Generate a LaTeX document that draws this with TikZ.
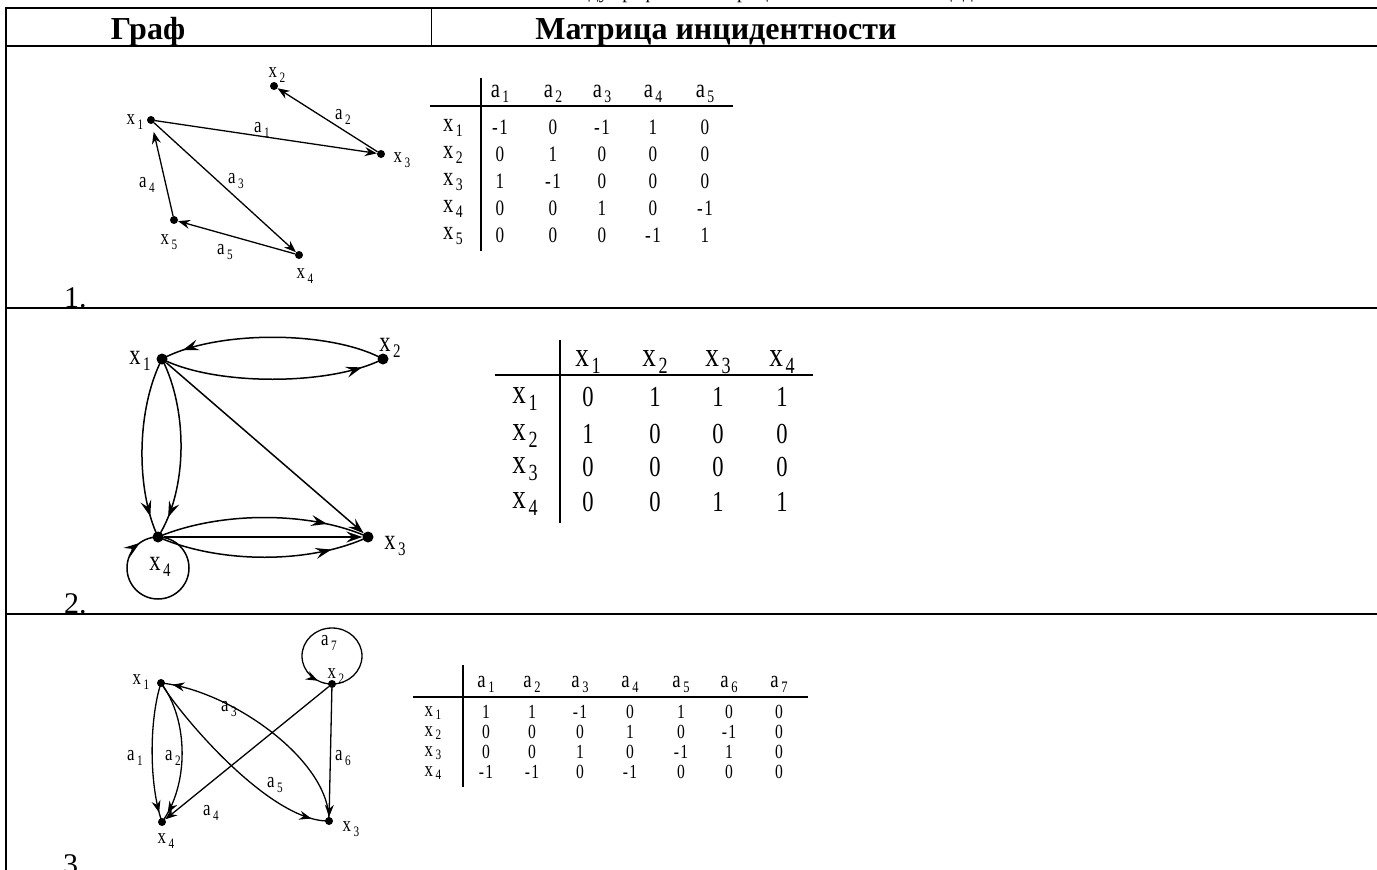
\documentclass[tikz,border=0pt]{standalone}
\usepackage{fontspec}
\usepackage{graphicx}
\setmainfont{Liberation Serif}
\newfontfamily\nar[FakeStretch=0.78]{Liberation Serif}
\usetikzlibrary{arrows.meta,decorations.markings}
\newcommand\lb[2]{\scalebox{1.2}{#1}\kern2.5pt\raisebox{-0.25em}{\scalebox{0.8}{#2}}}
\newcommand\lbs[2]{\scalebox{1.2}{#1}\kern2.5pt\raisebox{-0.15em}{\scalebox{0.8}{#2}}}
\newcommand\fs[1]{\fontsize{#1}{#1}\selectfont}
\newcommand\val[1]{\ifnum#1<0 -\kern1.5pt\the\numexpr-#1\relax\else#1\fi}
\tikzset{
  dot/.style={circle,fill,inner sep=0,minimum size=8pt},
  dotb/.style={circle,fill,inner sep=0,minimum size=11pt},
  lab/.style={font=\nar\fs{18},inner sep=0},
  labb/.style={font=\nar\fs{24},inner sep=0},
  ed/.style={line width=1.3pt},
  edb/.style={line width=1.5pt},
  tipA/.tip={Stealth[length=12pt,width=9pt,inset=4pt]},
  tipB/.tip={Stealth[length=16pt,width=11pt,inset=6pt]},
  midA/.style={postaction={decorate},decoration={markings,mark=at position #1 with {\arrow{tipA}}}},
  midB/.style={postaction={decorate},decoration={markings,mark=at position #1 with {\arrow{tipB}}}},
  rule/.style={line width=2pt},
  thinrule/.style={line width=1pt},
  mA/.style={font=\nar\fs{22},inner sep=0},
  mB/.style={font=\nar\fs{29},inner sep=0},
  mC/.style={font=\nar\fs{20},inner sep=0},
  mCr/.style={font=\nar\fs{18},inner sep=0},
  mline/.style={line width=2pt},
  hd/.style={font=\bfseries\fs{32},inner sep=0,anchor=base},
}
\begin{document}
\begin{tikzpicture}[x=1pt,y=-1pt]
\useasboundingbox (0,0) rectangle (1377,870);
\clip (0,0) rectangle (1377,870);
% cut-off caption above the table
\node[anchor=base east,font=\fs{20},inner sep=0] (capa) at (609,-1.5) {Соответствие между};
\node[anchor=base west,font=\fs{20},inner sep=0] (capb) at (614,-1.5) {графами и матрицами смежности и инцидентности};
% table frame
\draw[rule] (6,7.5) -- (1377,7.5);
\draw[rule] (6,46) -- (1377,46);
\draw[line width=2.2pt] (6,6.5) -- (6,870);
\draw[thinrule] (431,7.5) -- (431,46);
\draw[rule] (6,308) -- (1377,308);
\draw[rule] (6,614) -- (1377,614);
\node[hd] (hg) at (148,39) {Граф};
\node[hd] (hm) at (716,39) {Матрица инцидентности};
\node[anchor=base west,font=\fs{30},inner sep=0] (n1) at (64,307) {1.};
\node[anchor=base west,font=\fs{30},inner sep=0] (n2) at (64,613) {2.};
\node[anchor=base west,font=\fs{30},inner sep=0] (n3) at (63,874) {3.};

% ---------- graph 1
\node[dot] (g1x1) at (151,120) {};
\node[dot] (g1x2) at (274,86) {};
\node[dot] (g1x3) at (381,154) {};
\node[dot] (g1x5) at (174,220) {};
\node[dot] (g1x4) at (299,255) {};
\node[lab] (l1x1) at (135,122) {\lb{x}{1}};
\node[lab] (l1x2) at (277,75) {\lb{x}{2}};
\node[lab] (l1x3) at (402,160) {\lb{x}{3}};
\node[lab] (l1x5) at (169,242) {\lb{x}{5}};
\node[lab] (l1x4) at (305,276) {\lb{x}{4}};
\node[lab] (l1a1) at (262,130) {\lb{a}{1}};
\node[lab] (l1a2) at (343,117) {\lb{a}{2}};
\node[lab] (l1a3) at (236,181) {\lb{a}{3}};
\node[lab] (l1a4) at (147,185) {\lb{a}{4}};
\node[lab] (l1a5) at (225,252) {\lb{a}{5}};
\draw[ed,-tipA] (g1x1) -- (g1x3);
\draw[ed,-tipA] (g1x3) -- (g1x2);
\draw[ed,-tipA] (g1x1) -- (g1x4);
\draw[ed,-tipA,shorten >=8pt] (g1x5) -- (g1x1);
\draw[ed,-tipA] (g1x4) -- (g1x5);

% matrix 1
\draw[mline] (481,78) -- (481,251);
\draw[mline] (430,106) -- (733,106);
\foreach \xx [count=\i] in {500,553,602,653,705} {\node[mA] (m1h\i) at (\xx,94) {\lb{a}{\i}};}
\foreach \yy [count=\j] in {128,155,182,209,236} {\node[mA] (m1r\j) at (453,\yy) {\lb{x}{\j}};}
\foreach \row [count=\j] in {{-1,0,-1,1,0},{0,1,0,0,0},{1,-1,0,0,0},{0,0,1,0,-1},{0,0,0,-1,1}} {
  \foreach \v [count=\i] in \row {
    \pgfmathparse{{500,553,602,653,705}[\i-1]}\edef\cx{\pgfmathresult}
    \pgfmathparse{{127,154,181,208,235}[\j-1]}\edef\cy{\pgfmathresult}
    \node[mA] (m1e\j-\i) at (\cx,\cy) {\val{\v}};
  }
}

% ---------- graph 2
\node[dotb] (g2x1) at (162,359) {};
\node[dotb] (g2x2) at (383,359) {};
\node[dotb] (g2x3) at (368,537) {};
\node[dotb] (g2x4) at (158,537) {};
\node[labb] (l2x1) at (140,361) {\lb{x}{1}};
\node[labb] (l2x2) at (390,348) {\lb{x}{2}};
\node[labb] (l2x3) at (395,546) {\lb{x}{3}};
\node[labb] (l2x4) at (160,567) {\lb{x}{4}};
\draw[edb,midB=0.9] (g2x2.center) .. controls (330,330) and (215,330) .. (g2x1.center);
\draw[edb,midB=0.9] (g2x1.center) .. controls (215,386) and (330,386) .. (g2x2.center);
\draw[edb,midB=0.88] (g2x1.center) .. controls (136,410) and (136,490) .. (g2x4.center);
\draw[edb,midB=0.88] (g2x1.center) .. controls (188,410) and (188,490) .. (g2x4.center);
\draw[edb,-tipB] (g2x1) -- (g2x3);
\draw[edb,midB=0.8] (g2x4.center) .. controls (220,511) and (310,511) .. (g2x3.center);
\draw[edb,-tipB] (g2x4) -- (g2x3);
\draw[edb,midB=0.82] (g2x4.center) .. controls (220,564) and (310,564) .. (g2x3.center);
\draw[edb,midB=0.9] (g2x4.center) arc[start angle=-90,end angle=270,radius=31];

% matrix 2
\draw[mline] (560,340) -- (560,523);
\draw[mline] (495,375) -- (813,375);
\foreach \xx [count=\i] in {588,655,718,782} {\node[mB] (m2h\i) at (\xx,362) {\lb{x}{\i}};}
\foreach \yy [count=\j] in {399,436,469,504} {\node[mB] (m2r\j) at (525,\yy) {\lb{x}{\j}};}
\foreach \row [count=\j] in {{0,1,1,1},{1,0,0,0},{0,0,0,0},{0,0,1,1}} {
  \foreach \v [count=\i] in \row {
    \pgfmathparse{{588,655,718,782}[\i-1]}\edef\cx{\pgfmathresult}
    \pgfmathparse{{397,434,467,502}[\j-1]}\edef\cy{\pgfmathresult}
    \node[mB] (m2e\j-\i) at (\cx,\cy) {\val{\v}};
  }
}

% ---------- graph 3
\node[dot] (g3x1) at (161,683) {};
\node[dot] (g3x2) at (332,684) {};
\node[dot] (g3x3) at (329,821) {};
\node[dot] (g3x4) at (162,822) {};
\node[lab] (l3x1) at (141,682) {\lb{x}{1}};
\node[lab] (l3x2) at (336,676) {\lb{x}{2}};
\node[lab] (l3x3) at (351,829) {\lb{x}{3}};
\node[lab] (l3x4) at (166,841) {\lb{x}{4}};
\node[lab] (l3a7) at (329,643) {\lb{a}{7}};
\node[lab] (l3a3) at (229,709) {\lb{a}{3}};
\node[lab] (l3a1) at (135,758) {\lb{a}{1}};
\node[lab] (l3a2) at (173,758) {\lb{a}{2}};
\node[lab] (l3a5) at (275,785) {\lb{a}{5}};
\node[lab] (l3a4) at (211,813) {\lb{a}{4}};
\node[lab] (l3a6) at (343,758) {\lb{a}{6}};
\draw[ed,midA=0.93] (g3x1.center) .. controls (149,720) and (149,785) .. (g3x4.center);
\draw[ed,midA=0.93] (g3x1.center) .. controls (189,720) and (189,785) .. (g3x4.center);
\draw[ed,midA=0.95] (g3x3.center) .. controls (330,760) and (230,690) .. (g3x1.center);
\draw[ed,midA=0.92] (g3x1.center) .. controls (180,715) and (270,822) .. (g3x3.center);
\draw[ed,-tipA] (g3x2) -- (g3x4);
\draw[ed,-tipA] (g3x2) -- (g3x3);
\draw[ed,midA=0.92] (g3x2.center) arc[start angle=90,end angle=-270,x radius=30,y radius=28];

% matrix 3
\draw[mline] (463,665) -- (463,787);
\draw[mline] (413,697) -- (808,697);
\foreach \xx [count=\i] in {486,532,580,630,681,729,779} {\node[mC] (m3h\i) at (\xx,684) {\lb{a}{\i}};}
\foreach \yy [count=\j] in {713,733,753,773} {\node[mCr] (m3r\j) at (433,\yy) {\lbs{x}{\j}};}
\foreach \row [count=\j] in {{1,1,-1,0,1,0,0},{0,0,0,1,0,-1,0},{0,0,1,0,-1,1,0},{-1,-1,0,-1,0,0,0}} {
  \foreach \v [count=\i] in \row {
    \pgfmathparse{{486,532,580,630,681,729,779}[\i-1]}\edef\cx{\pgfmathresult}
    \pgfmathparse{{712,732,752,772}[\j-1]}\edef\cy{\pgfmathresult}
    \node[mC] (m3e\j-\i) at (\cx,\cy) {\val{\v}};
  }
}
\end{tikzpicture}
\end{document}
